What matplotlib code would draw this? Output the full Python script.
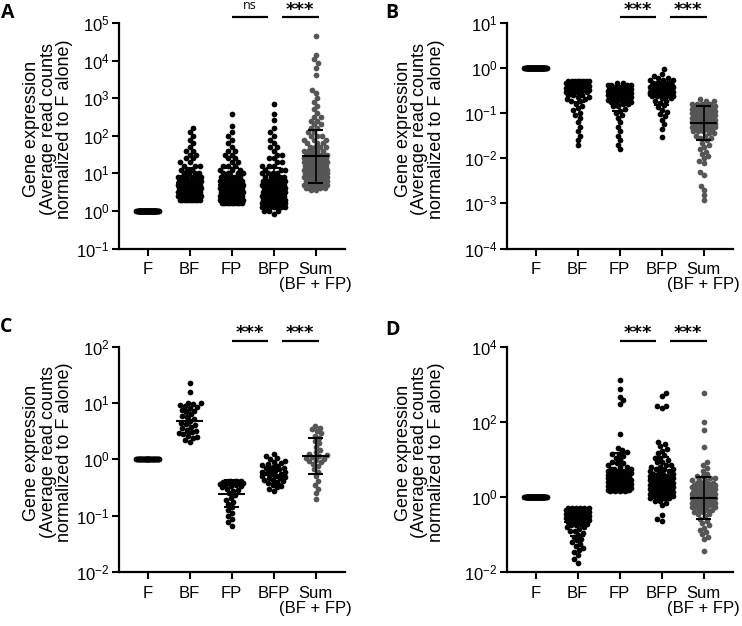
import numpy as np
import matplotlib
matplotlib.use('Agg')
import matplotlib.pyplot as plt
import matplotlib.transforms as mtransforms
from matplotlib.ticker import NullLocator

plt.rcParams['font.family'] = ['Liberation Sans', 'DejaVu Sans']
plt.rcParams['mathtext.fontset'] = 'custom'
plt.rcParams['mathtext.rm'] = 'Liberation Sans'
plt.rcParams['mathtext.it'] = 'Liberation Sans:italic'
plt.rcParams['mathtext.bf'] = 'Liberation Sans:bold'
plt.rcParams['mathtext.default'] = 'regular'

categories = ['F', 'BF', 'FP', 'BFP', 'Sum\n(BF + FP)']
ylabel = 'Gene expression\n(Average read counts\nnormalized to F alone)'

a_bf_log = [0.3, 0.4, 0.5, 0.6, 0.7, 0.8, 0.9, 1.0, 1.1, 1.2, 1.3, 1.4, 1.5,
            1.6, 1.7, 1.8, 1.9, 2.0, 2.1, 2.2]
a_bf_n = [9, 10, 10, 10, 10, 8, 6, 4, 3, 3, 2, 2, 2, 2, 1, 1, 1, 1, 1, 1]
a_fp_log = [0.2, 0.3, 0.4, 0.5, 0.6, 0.7, 0.8, 0.9, 1.0, 1.1, 1.2, 1.3, 1.4,
            1.5, 1.6, 1.7, 1.8, 1.9, 2.0, 2.1, 2.25, 2.57]
a_fp_n = [9, 10, 10, 10, 10, 9, 8, 6, 4, 3, 3, 2, 2, 2, 2, 1, 1, 1, 1, 1, 1, 1]
a_bfp_log = [-0.07, 0.0, 0.1, 0.2, 0.3, 0.4, 0.5, 0.6, 0.7, 0.8, 0.9, 1.0, 1.1,
             1.2, 1.3, 1.4, 1.5, 1.6, 1.7, 1.8, 1.9, 2.0, 2.1, 2.2, 2.41, 2.57,
             2.84]
a_bfp_n = [1, 3, 7, 10, 10, 10, 10, 10, 8, 7, 5, 4, 3, 3, 2, 2, 2, 1, 2, 1, 1,
           1, 1, 1, 1, 1, 1]
a_sum_log = [4.66, 4.16, 4.03, 3.93, 3.81, 3.61, 3.21, 3.13, 3.0, 2.9, 2.8,
             2.7, 2.6, 2.5, 2.4, 2.3, 2.2, 2.1, 2.0, 1.9, 1.8, 1.7, 1.6, 1.5,
             1.4, 1.3, 1.2, 1.1, 1.0, 0.9, 0.8, 0.7, 0.6, 0.55]
a_sum_n = [1, 1, 1, 1, 1, 1, 1, 1, 1, 1, 1, 1, 1, 2, 2, 2, 2, 2, 3, 3, 3, 4, 5,
           7, 8, 10, 10, 10, 10, 10, 10, 8, 6, 2]
a_mean = [1.0, 5.6, 4.9, 4.9, 28.2]
a_hi = [1.0, 14.1, 13.8, 14.1, 141.0]
a_lo = [1.0, 2.24, 1.74, 1.70, 5.6]

# ---- panel B
b_bf_log = [-0.29, -0.34, -0.39, -0.44, -0.49, -0.54, -0.59, -0.64, -0.69,
            -0.74, -0.79, -0.84, -0.89, -0.94, -0.99, -1.04, -1.1, -1.2, -1.3,
            -1.4, -1.5, -1.6, -1.71]
b_bf_n = [8, 8, 8, 8, 7, 5, 3, 2, 2, 2, 1, 1, 1, 1, 1, 1, 1, 1, 1, 1, 1, 1, 1]
b_fp_log = [-0.34, -0.38, -0.42, -0.46, -0.5, -0.55, -0.6, -0.65, -0.7, -0.75,
            -0.8, -0.85, -0.9, -0.95, -1.0, -1.05, -1.1, -1.2, -1.3, -1.4,
            -1.5, -1.6, -1.7, -1.8]
b_fp_n = [2, 4, 6, 8, 8, 8, 8, 7, 5, 3, 2, 2, 1, 1, 1, 1, 1, 1, 1, 1, 1, 1, 1,
          1]
b_bfp_log = [-0.03, -0.12, -0.17, -0.22, -0.27, -0.32, -0.37, -0.42, -0.47,
             -0.52, -0.57, -0.62, -0.67, -0.72, -0.77, -0.82, -0.87, -0.92,
             -0.97, -1.02, -1.07, -1.15, -1.25, -1.35, -1.53]
b_bfp_n = [1, 1, 1, 2, 3, 5, 7, 8, 8, 8, 6, 4, 2, 2, 1, 1, 1, 1, 1, 1, 1, 1, 1,
           1, 1]
b_sum_log = [-0.69, -0.74, -0.79, -0.84, -0.9, -0.95, -1.0, -1.05, -1.1, -1.15,
             -1.2, -1.25, -1.3, -1.35, -1.4, -1.45, -1.5, -1.55, -1.6, -1.65,
             -1.7, -1.75, -1.8, -1.85, -1.9, -1.95, -2.0, -2.05, -2.11, -2.3,
             -2.38, -2.62, -2.71, -2.82, -2.93]
b_sum_n = [1, 2, 4, 6, 7, 8, 8, 8, 8, 8, 8, 7, 7, 5, 3, 2, 2, 2, 1, 1, 1, 1, 1,
           1, 1, 1, 1, 1, 1, 1, 1, 1, 1, 1, 1]
b_mean = [1.0, 0.30, 0.20, 0.25, 0.062]
b_hi = [1.0, 0.49, 0.355, 0.42, 0.145]
b_lo = [1.0, 0.18, 0.11, 0.15, 0.026]

# ---- panel C : individual dots (log10)
c_bf_log = [1.36, 1.19, 1.0, 0.99, 0.98, 0.97, 0.95, 0.93, 0.91, 0.88, 0.86,
            0.84, 0.8, 0.77, 0.75, 0.72, 0.68, 0.65, 0.62, 0.6, 0.58, 0.55,
            0.52, 0.5, 0.48, 0.46, 0.44, 0.42, 0.4, 0.38, 0.35, 0.31]
c_fp_log = [-0.38, -0.38, -0.39, -0.4, -0.4, -0.41, -0.42, -0.42, -0.43, -0.44,
            -0.45, -0.46, -0.47, -0.48, -0.5, -0.52, -0.54, -0.56, -0.6, -0.64,
            -0.68, -0.72, -0.76, -0.8, -0.85, -0.9, -0.95, -1.0, -1.06, -1.12,
            -1.18]
c_bfp_log = [0.1, 0.05, 0.02, 0.0, -0.03, -0.05, -0.07, -0.09, -0.1, -0.12,
             -0.13, -0.15, -0.16, -0.18, -0.19, -0.2, -0.22, -0.23, -0.25,
             -0.26, -0.27, -0.29, -0.3, -0.31, -0.33, -0.34, -0.36, -0.37,
             -0.39, -0.41, -0.43, -0.45, -0.47, -0.5, -0.53, -0.57]
c_sum_log = [0.59, 0.56, 0.53, 0.5, 0.46, 0.42, 0.38, 0.33, 0.28, 0.22, 0.17,
             0.13, 0.1, 0.08, 0.06, 0.04, 0.03, 0.01, -0.01, -0.03, -0.05,
             -0.08, -0.12, -0.17, -0.22, -0.3, -0.38, -0.45, -0.52, -0.6, -0.71]
c_mean = [1.0, 4.7, 0.245, 0.52, 1.15]
c_hi = [1.0, 7.6, 0.42, 0.73, 2.4]
c_lo = [1.0, 2.9, 0.145, 0.37, 0.54]

# ---- panel D
d_bf_log = [-0.31, -0.36, -0.41, -0.46, -0.51, -0.56, -0.61, -0.66, -0.71,
            -0.76, -0.81, -0.86, -0.91, -0.96, -1.01, -1.06, -1.11, -1.16,
            -1.21, -1.26, -1.31, -1.36, -1.41, -1.46, -1.56, -1.66, -1.76]
d_bf_n = [6, 6, 6, 6, 6, 5, 4, 3, 2, 2, 2, 1, 2, 1, 1, 1, 1, 1, 1, 1, 1, 1, 1,
          1, 1, 1, 1]
d_fp_log = [3.12, 2.86, 2.66, 2.57, 2.48, 1.67, 1.29, 1.24, 1.19, 1.14, 1.09,
            1.04, 0.99, 0.94, 0.89, 0.84, 0.79, 0.74, 0.69, 0.64, 0.59, 0.54,
            0.49, 0.44, 0.39, 0.34, 0.29, 0.24, 0.19, 0.15]
d_fp_n = [1, 1, 1, 1, 1, 1, 1, 1, 1, 2, 1, 1, 1, 1, 2, 1, 2, 3, 5, 5, 4, 4, 5,
          6, 6, 6, 6, 6, 6, 4]
d_bfp_log = [2.76, 2.68, 2.41, 2.37, 1.46, 1.4, 1.34, 1.28, 1.22, 1.16, 1.1,
             1.04, 0.98, 0.92, 0.86, 0.8, 0.74, 0.68, 0.62, 0.56, 0.5, 0.44,
             0.38, 0.32, 0.26, 0.2, 0.14, 0.08, 0.02, -0.04, -0.1, -0.16,
             -0.22, -0.48, -0.58, -0.65]
d_bfp_n = [1, 1, 2, 1, 1, 1, 1, 1, 1, 1, 1, 2, 1, 2, 2, 2, 3, 3, 4, 5, 6, 6, 6,
           6, 6, 6, 6, 5, 4, 3, 2, 1, 1, 1, 1, 1]
d_sum_log = [2.77, 1.99, 1.77, 1.33, 0.93, 0.85, 0.78, 0.7, 0.62, 0.56, 0.5,
             0.44, 0.38, 0.32, 0.26, 0.2, 0.14, 0.08, 0.02, -0.04, -0.1, -0.16,
             -0.22, -0.28, -0.34, -0.4, -0.46, -0.52, -0.58, -0.64, -0.7,
             -0.76, -0.82, -0.88, -0.94, -1.0, -1.06, -1.12, -1.43]
d_sum_n = [1, 1, 1, 1, 1, 1, 1, 1, 1, 2, 2, 3, 4, 5, 5, 6, 6, 6, 6, 6, 6, 6, 5,
           4, 3, 2, 2, 1, 1, 1, 1, 1, 1, 1, 1, 1, 1, 1, 1]
d_mean = [1.0, 0.21, 4.7, 3.1, 0.95]
d_hi = [1.0, 0.49, 14.8, 11.5, 3.4]
d_lo = [1.0, 0.09, 1.5, 0.83, 0.26]

W, H = 742, 626
AX_W, AX_H = 226, 225.5
XMIN, XMAX = -0.68, 4.70
XPX = AX_W / (XMAX - XMIN)
DOT = 4.9      # spacing between dot centres in px
CAP = 11.5     # max half-width of a swarm, px
GREY = '#565656'


def swarm_offsets(logv, pxdec):
    y = np.asarray(logv, float) * pxdec
    n = len(y)
    xs = np.zeros(n)
    py = np.zeros(n)
    px = np.zeros(n)
    base = np.arange(0, CAP + 0.01, 0.25)
    k = 0
    for j, i in enumerate(np.argsort(y, kind='stable')):
        s = 1 if j % 2 == 0 else -1
        cands = np.column_stack([base * s, -base * s]).ravel()
        near = np.abs(py[:k] - y[i]) < DOT
        x = 0.0
        if near.any():
            dx = cands[:, None] - px[:k][near][None, :]
            dy = py[:k][near] - y[i]
            dist = np.sqrt(dx ** 2 + dy[None, :] ** 2).min(axis=1)
            ok = dist >= DOT - 0.05
            x = cands[np.argmax(ok)] if ok.any() else cands[np.argmax(dist)]
        xs[i] = x
        py[k] = y[i]
        px[k] = x
        k += 1
    return xs / XPX


def panel(left, top, groups, mean, hi, lo, emin, emax, estep, sig, lab_x):
    ax = fig.add_axes([left / W, 1 - (top + AX_H) / H, AX_W / W, AX_H / H])
    pxdec = AX_H / (emax - emin)
    for gi, lv in enumerate(groups):
        lv = np.asarray(lv, float)
        off = swarm_offsets(lv, pxdec)
        col = GREY if gi == 4 else 'black'
        ax.scatter(gi + off, 10 ** lv, s=17, c=col, linewidths=0, zorder=2)
    for gi in range(5):
        ax.plot([gi - 0.33, gi + 0.33], [mean[gi]] * 2, color='black', lw=1.5,
                zorder=3, solid_capstyle='butt')
        ax.plot([gi, gi], [lo[gi], hi[gi]], color='black', lw=1.2, zorder=3)
        for v in (lo[gi], hi[gi]):
            ax.plot([gi - 0.17, gi + 0.17], [v, v], color='black', lw=1.5,
                    zorder=3, solid_capstyle='butt')
    ax.set_yscale('log')
    ax.set_ylim(10.0 ** emin, 10.0 ** emax)
    ax.set_xlim(XMIN, XMAX)
    exps = list(range(emin, emax + 1, estep))
    ax.set_yticks([10.0 ** e for e in exps])
    ax.set_yticklabels([r'10$^{%d}$' % e for e in exps], fontsize=12)
    ax.yaxis.set_minor_locator(NullLocator())
    ax.set_xticks(range(5))
    ax.set_xticklabels(categories, fontsize=12, linespacing=1.0)
    for s in ('top', 'right'):
        ax.spines[s].set_visible(False)
    for s in ('left', 'bottom'):
        ax.spines[s].set_linewidth(1.6)
    ax.tick_params(axis='both', direction='out', length=5, width=1.5)
    ax.tick_params(axis='x', pad=5)
    ax.tick_params(axis='y', pad=2)
    ax.text(lab_x, 0.53, ylabel, transform=ax.transAxes, rotation=90,
            ha='center', va='center', multialignment='center', fontsize=13,
            linespacing=0.95)
    trans = mtransforms.blended_transform_factory(ax.transData, ax.transAxes)
    yb = 1 + 6 / AX_H
    for (x0, x1), t in zip([(2.0, 2.86), (3.2, 4.07)], sig):
        ax.plot([x0, x1], [yb, yb], transform=trans, color='black', lw=1.6,
                clip_on=False, solid_capstyle='butt')
        if t == 'ns':
            ax.text((x0 + x1) / 2, yb + 5 / AX_H, t, transform=trans,
                    ha='center', va='bottom', fontsize=9, family='Open Sans')
        else:
            ax.text((x0 + x1) / 2, yb - 2 / AX_H, t, transform=trans,
                    ha='center', va='bottom', fontsize=13, fontweight='bold',
                    family='DejaVu Sans')
    return ax


fig = plt.figure(figsize=(W / 100, H / 100), dpi=100)

a_groups = [[0.0] * 80, np.repeat(a_bf_log, a_bf_n), np.repeat(a_fp_log, a_fp_n),
            np.repeat(a_bfp_log, a_bfp_n), np.repeat(a_sum_log, a_sum_n)]
b_groups = [[0.0] * 80, np.repeat(b_bf_log, b_bf_n), np.repeat(b_fp_log, b_fp_n),
            np.repeat(b_bfp_log, b_bfp_n), np.repeat(b_sum_log, b_sum_n)]
c_groups = [[0.0] * 40, c_bf_log, c_fp_log, c_bfp_log, c_sum_log]
d_groups = [[0.0] * 80, np.repeat(d_bf_log, d_bf_n), np.repeat(d_fp_log, d_fp_n),
            np.repeat(d_bfp_log, d_bfp_n), np.repeat(d_sum_log, d_sum_n)]

panel(119, 23, a_groups, a_mean, a_hi, a_lo, -1, 5, 1, ['ns', '***'], -0.314)
panel(507, 23, b_groups, b_mean, b_hi, b_lo, -4, 1, 1, ['***', '***'], -0.385)
panel(119, 346.5, c_groups, c_mean, c_hi, c_lo, -2, 2, 1, ['***', '***'], -0.314)
panel(507, 346.5, d_groups, d_mean, d_hi, d_lo, -2, 4, 2, ['***', '***'], -0.385)

for x, y, t in [(1, 3, 'A'), (385, 3, 'B'), (0, 317, 'C'), (385, 320, 'D')]:
    fig.text(x / W, 1 - y / H, t, ha='left', va='top', fontsize=14,
             fontweight='bold', family='Open Sans')

fig.savefig('out.png', dpi=100)
